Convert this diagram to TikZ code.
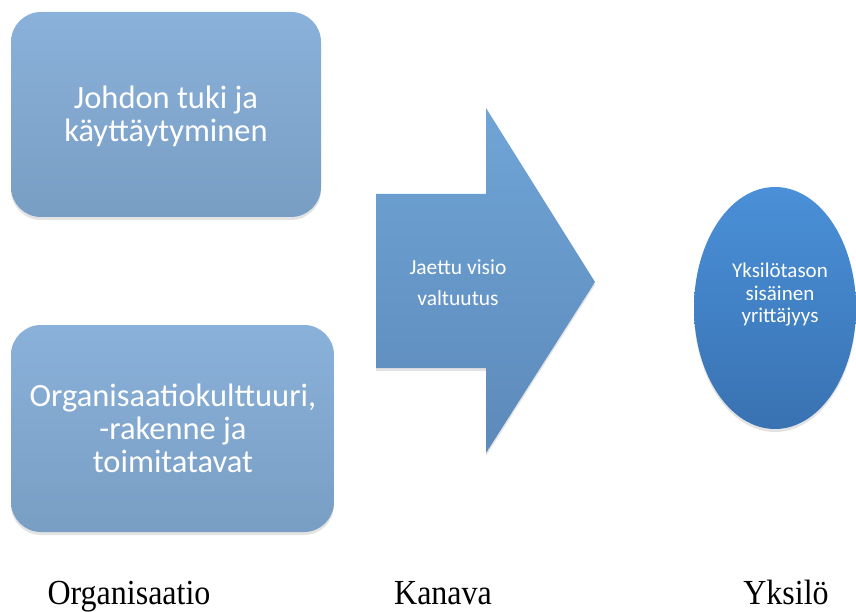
\documentclass[tikz,border=0pt]{standalone}
\usepackage{fontspec}
\setmainfont{Carlito}
\newfontfamily\labelfont{Liberation Serif}
\usetikzlibrary{shadows,shapes.geometric}
\definecolor{boxtop}{HTML}{8AB1DA}
\definecolor{boxbot}{HTML}{799EC4}
\definecolor{arrtop}{HTML}{70A4D7}
\definecolor{arrbot}{HTML}{5C8ABA}
\definecolor{elltop}{HTML}{4A90D8}
\definecolor{ellbot}{HTML}{3972B2}
\tikzset{
  softshadow/.style={drop shadow={shadow xshift=0pt,shadow yshift=-3pt,opacity=0.18,fill=black!60}},
  orgbox/.style={rounded corners=30pt,top color=boxtop,bottom color=boxbot,draw=none,softshadow},
  boxtext/.style={text=white,align=center,font=\fontsize{32.5}{33}\selectfont},
  arrtext/.style={text=white,align=center,font=\fontsize{21.5}{31}\selectfont},
  elltext/.style={text=white,align=center,font=\fontsize{21}{22.5}\selectfont},
  collabel/.style={anchor=base,yscale=1.1,font=\labelfont\fontsize{32}{36}\selectfont}
}
\begin{document}
\begin{tikzpicture}[x=1pt,y=-1pt]
\useasboundingbox (0,0) rectangle (856,612);
% top box
\path[orgbox] (11,12) rectangle (321,217);
\node[boxtext] (johto) at (166,116) {Johdon tuki ja\\käyttäytyminen};
% bottom box
\path[orgbox] (11,325) rectangle (334,532);
\node[boxtext] (kulttuuri) at (173,428) {Organisaatiokulttuuri,\\-rakenne ja\\toimitatavat};
% arrow
\path[top color=arrtop,bottom color=arrbot,softshadow]
  (376,194) -- (486,194) -- (486,108) -- (595,282) -- (486,453) -- (486,368) -- (376,368) -- cycle;
\node[arrtext] (kanavateksti) at (458,283) {Jaettu visio\\valtuutus};
% ellipse
\path[top color=elltop,bottom color=ellbot,softshadow] (775,308) ellipse [x radius=81,y radius=121];
\node[elltext] (yksiloteksti) at (780,295) {Yksilötason\\sisäinen\\yrittäjyys};
% labels
\node[collabel] (org) at (129,604) {Organisaatio};
\node[collabel] (kanava) at (443,604) {Kanava};
\node[collabel] (yksilo) at (786,604) {Yksilö};
\end{tikzpicture}
\end{document}
